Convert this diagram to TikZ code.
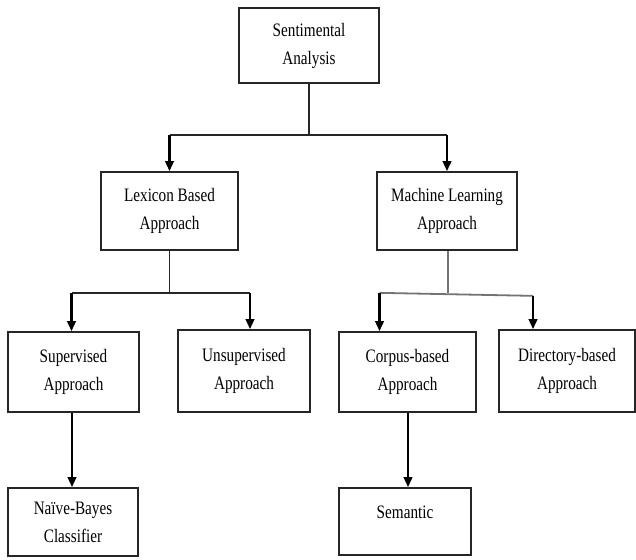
\documentclass[tikz,border=0pt]{standalone}
\usepackage{fontspec}
\setmainfont[FakeStretch=0.8]{Liberation Serif}
\usetikzlibrary{arrows.meta}
\begin{document}
\begin{tikzpicture}[x=1pt,y=-1pt,
  box/.style={draw=black!85,line width=1.7pt,fill=white,align=center,inner sep=0pt,
    font=\fontsize{19}{28}\selectfont},
  link/.style={line width=1.8pt,draw=black!85},
  glink/.style={line width=1.8pt,draw=black!55},
  arr/.style={line width=2.3pt,-{Triangle[length=10pt,width=8.5pt]}}]
\useasboundingbox[fill=white] (0,0) rectangle (636,559);
\node[box,minimum width=140pt,minimum height=75pt] (top) at (309,45.5) {Sentimental\\Analysis};
\node[box,minimum width=137pt,minimum height=78pt] (lex) at (169.5,211) {Lexicon Based\\Approach};
\node[box,minimum width=140pt,minimum height=78pt] (ml) at (447,211) {Machine Learning\\Approach};
\node[box,minimum width=131pt,minimum height=80pt] (sup) at (73.5,372) {Supervised\\Approach};
\node[box,minimum width=132pt,minimum height=82pt] (unsup) at (244,371) {Unsupervised\\Approach};
\node[box,minimum width=137pt,minimum height=80pt] (corp) at (407.5,372) {Corpus-based\\Approach};
\node[box,minimum width=136pt,minimum height=82pt] (dir) at (567,371) {Directory-based\\Approach};
\node[box,minimum width=130pt,minimum height=68pt] (naive) at (73,522) {Naïve-Bayes\\Classifier};
\node[box,minimum width=132pt,minimum height=67pt] (sem) at (405,521.5) {};
\node[font=\fontsize{19}{28}\selectfont,inner sep=0pt] (semt) at ([yshift=9pt]sem.center) {Semantic};
% level 1
\draw[link] (top.south) -- ++(0,51) coordinate (j1);
\draw[link] (j1) -- (j1 -| lex.north) coordinate (j1l);
\draw[link] (j1) -- (j1 -| ml.north) coordinate (j1r);
\draw[arr] (j1l) -- (lex.north);
\draw[arr] (j1r) -- (ml.north);
% lexicon branch
\draw[link] (lex.south) -- ++(0,42) coordinate (j2);
\draw[link] ([xshift=-2pt]j2 -| sup.north) coordinate (j2l) -- ([xshift=6pt]j2 -| unsup.north) coordinate (j2r);
\draw[arr] (j2l) -- ([xshift=-2pt]sup.north);
\draw[arr] (j2r) -- ([xshift=6pt]unsup.north);
% machine learning branch
\draw[glink] ([xshift=1pt]ml.south) -- ++(0,42) coordinate (j3);
\draw[glink] ([xshift=-28pt]j3 -| corp.north) coordinate (j3l) -- ([xshift=-34pt,yshift=-3pt]j3 -| dir.north) coordinate (j3r);
\draw[arr] (j3l) -- ([xshift=-28pt]corp.north);
\draw[arr] (j3r) -- ([xshift=-34pt]dir.north);
% leaves
\draw[arr] ([xshift=-1.5pt]sup.south) -- ([xshift=-1.5pt]sup.south |- naive.north);
\draw[arr] ([xshift=0.5pt]corp.south) -- ([xshift=0.5pt]corp.south |- sem.north);
\end{tikzpicture}
\end{document}
